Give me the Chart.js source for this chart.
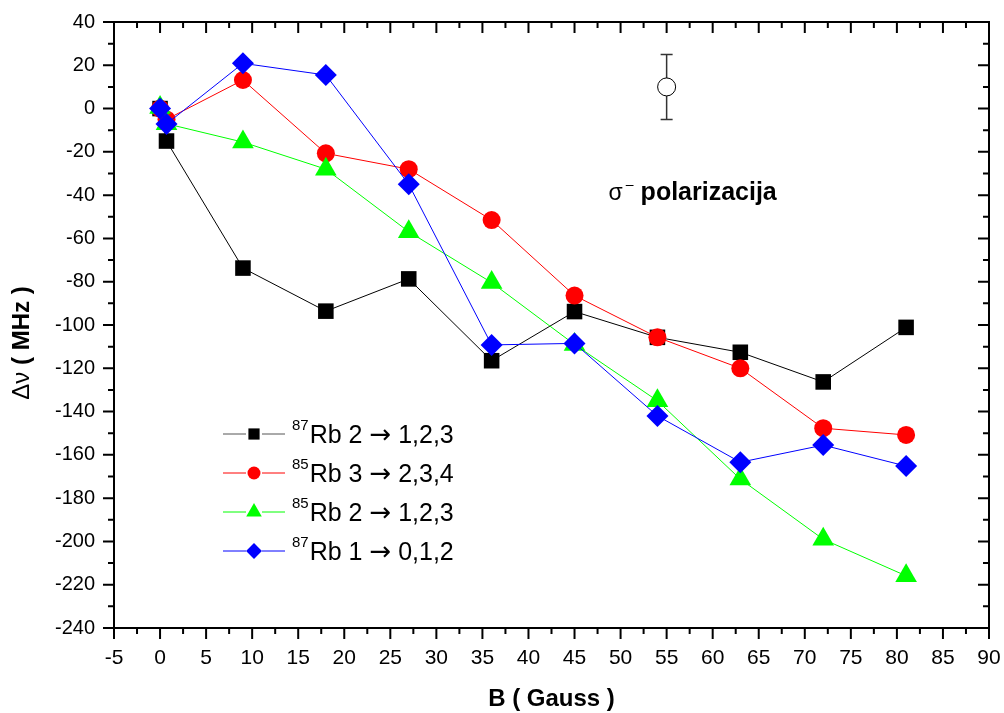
<!DOCTYPE html>
<html>
<head>
<meta charset="utf-8">
<script src="https://cdn.jsdelivr.net/npm/chart.js@4.4.0/dist/chart.umd.min.js"></script>
<style>
  html, body { margin: 0; padding: 0; background: #fff; }
</style>
</head>
<body>
<canvas id="chart" width="1004" height="713"></canvas>
<script>
// magnetic field values (Gauss)
const fieldB = [0, 0.7, 9, 18, 27, 36, 45, 54, 63, 72, 81];

// frequency shifts (MHz) for each transition
const rb87_2 = [0, -15, -73.7, -93.6, -78.7, -116.5, -93.8, -105.7, -112.6, -126.3, -101.1];
const rb85_3 = [0, -5, 13.2, -20.7, -28, -51.5, -86.4, -105.7, -120, -147.7, -150.8];
const rb85_2 = [0.5, -7, -15.5, -28, -56.9, -80.4, -109, -135, -171.2, -199, -215.9];
const rb87_1 = [0, -7.1, 20.9, 15.5, -35, -109.2, -108.5, -142, -163.4, -155.5, -165.2];

// typical error bar sample
const errB = 55;
const errNu = 10;
const errSize = 15;

// legend labels: isotope, initial level, final levels
const isotopes = ["87", "85", "85", "87"];
const fromLevel = ["Rb 2 ", "Rb 3 ", "Rb 2 ", "Rb 1 "];
const toLevels = [" 1,2,3", " 2,3,4", " 1,2,3", " 0,1,2"];

const FONT = "'Liberation Sans', Arial, sans-serif";

function toPoints(ys) {
  return fieldB.map((b, i) => ({ x: b, y: ys[i] }));
}

const datasets = [
  { label: isotopes[0] + fromLevel[0], data: toPoints(rb87_2), borderColor: "#000000", backgroundColor: "#000000",
    pointStyle: "rect", pointRadius: 11, order: 3 },
  { label: isotopes[1] + fromLevel[1], data: toPoints(rb85_3), borderColor: "#ff0000", backgroundColor: "#ff0000",
    pointStyle: "circle", pointRadius: 9, order: 2 },
  { label: isotopes[2] + fromLevel[2], data: toPoints(rb85_2), borderColor: "#00ff00", backgroundColor: "#00ff00",
    pointStyle: "triangle", pointRadius: 12.5, order: 1 },
  { label: isotopes[3] + fromLevel[3], data: toPoints(rb87_1), borderColor: "#0000ff", backgroundColor: "#0000ff",
    pointStyle: "rectRot", pointRadius: 11, order: 0 }
];
datasets.forEach(d => {
  d.showLine = true;
  d.borderWidth = 1;
  d.pointBorderWidth = 0;
  d.pointHoverRadius = d.pointRadius;
});

// open circle with error bar
datasets.push({
  label: "err",
  data: [{ x: errB, y: errNu }],
  showLine: false,
  pointStyle: "circle",
  pointRadius: 9,
  pointBorderWidth: 1,
  borderColor: "#000",
  backgroundColor: "#fff",
  order: -1
});

// frame, ticks, axis titles, legend and annotation
const decorations = {
  id: "decorations",
  beforeDatasetsDraw(chart) {
    const { ctx, scales: { x, y } } = chart;
    // error bar line (circle covers the middle)
    const px = x.getPixelForValue(errB);
    const top = y.getPixelForValue(errNu + errSize);
    const bot = y.getPixelForValue(errNu - errSize);
    ctx.save();
    ctx.strokeStyle = "#333";
    ctx.lineWidth = 1.5;
    ctx.beginPath();
    ctx.moveTo(px, top); ctx.lineTo(px, bot);
    ctx.moveTo(px - 6, top); ctx.lineTo(px + 6, top);
    ctx.moveTo(px - 6, bot); ctx.lineTo(px + 6, bot);
    ctx.stroke();
    ctx.restore();
  },
  afterDraw(chart) {
    const { ctx, chartArea: a, scales: { x, y } } = chart;
    ctx.save();
    ctx.strokeStyle = "#000";
    ctx.lineWidth = 2;
    ctx.strokeRect(a.left, a.top, a.right - a.left, a.bottom - a.top);

    // ticks: left/bottom outward, top/right inward
    ctx.beginPath();
    for (let v = -5; v <= 90.01; v += 2.5) {
      const p = x.getPixelForValue(v);
      const len = (Math.abs(v % 5) < 0.01) ? 11 : 6;
      ctx.moveTo(p, a.bottom); ctx.lineTo(p, a.bottom + len);
      ctx.moveTo(p, a.top); ctx.lineTo(p, a.top + len);
    }
    for (let v = -240; v <= 40.01; v += 10) {
      const p = y.getPixelForValue(v);
      const len = (Math.abs(v % 20) < 0.01) ? 11 : 6;
      ctx.moveTo(a.left, p); ctx.lineTo(a.left - len, p);
      ctx.moveTo(a.right, p); ctx.lineTo(a.right - len, p);
    }
    ctx.stroke();

    // axis titles
    ctx.fillStyle = "#000";
    ctx.textBaseline = "middle";
    ctx.textAlign = "center";
    ctx.font = "bold 24px " + FONT;
    ctx.fillText("B ( Gauss )", (a.left + a.right) / 2, 699);

    ctx.save();
    ctx.translate(22, 343);
    ctx.rotate(-Math.PI / 2);
    ctx.textAlign = "left";
    ctx.font = "24px " + FONT;
    const part1 = "\u0394\u03bd ";
    const w1 = ctx.measureText(part1).width;
    ctx.font = "bold 24px " + FONT;
    const part2 = "( MHz )";
    const w2 = ctx.measureText(part2).width;
    const start = -(w1 + w2) / 2;
    ctx.font = "24px " + FONT;
    ctx.fillText(part1, start, 0);
    ctx.font = "bold 24px " + FONT;
    ctx.fillText(part2, start + w1, 0);
    ctx.restore();

    // annotation
    const nx = x.getPixelForValue(48.7);
    const ny = y.getPixelForValue(-42.2);
    ctx.textAlign = "left";
    ctx.textBaseline = "alphabetic";
    ctx.font = "23px " + FONT;
    ctx.fillText("\u03c3", nx, ny);
    const sw = ctx.measureText("\u03c3").width;
    ctx.font = "14px " + FONT;
    ctx.fillText("\u2013", nx + sw + 3, ny - 11);
    ctx.font = "bold 25px " + FONT;
    ctx.fillText("polarizacija", nx + 32, ny);

    // legend
    const lx = a.left + 109;
    const ly = a.top + 412;
    const step = 39;
    for (let i = 0; i < 4; i++) {
      const ds = chart.data.datasets[i];
      const cy = ly + i * step;
      ctx.strokeStyle = i === 0 ? "#555" : ds.borderColor;
      ctx.lineWidth = 1;
      ctx.beginPath();
      ctx.moveTo(lx, cy); ctx.lineTo(lx + 23, cy);
      ctx.moveTo(lx + 39, cy); ctx.lineTo(lx + 62, cy);
      ctx.stroke();
      ctx.fillStyle = ds.backgroundColor;
      Chart.helpers.drawPoint(ctx, {
        pointStyle: ds.pointStyle,
        radius: ds.pointRadius * 0.72,
        rotation: 0,
        borderWidth: 0
      }, lx + 31, cy);
      ctx.fillStyle = "#000";
      let tx = lx + 69;
      ctx.font = "15px " + FONT;
      ctx.fillText(isotopes[i], tx, cy - 4);
      tx += ctx.measureText(isotopes[i]).width + 1;
      ctx.font = "25px " + FONT;
      ctx.fillText(fromLevel[i], tx, cy + 9);
      tx += ctx.measureText(fromLevel[i]).width;
      ctx.font = "26px 'DejaVu Sans', sans-serif";
      ctx.fillText("\u2192", tx, cy + 9);
      tx += ctx.measureText("\u2192").width;
      ctx.font = "25px " + FONT;
      ctx.fillText(toLevels[i], tx, cy + 9);
    }
    ctx.restore();
  }
};

new Chart(document.getElementById("chart"), {
  type: "scatter",
  data: { datasets },
  options: {
    responsive: false,
    animation: false,
    devicePixelRatio: 1,
    layout: { padding: { top: 22, right: 15, left: 0, bottom: 0 } },
    plugins: { legend: { display: false }, tooltip: { enabled: false } },
    scales: {
      x: {
        type: "linear",
        min: -5,
        max: 90,
        afterFit: s => { s.height = 85; s.paddingLeft = 0; s.paddingRight = 0; },
        grid: { display: false, drawTicks: false },
        border: { display: false },
        ticks: { stepSize: 5, color: "#000", padding: 18, font: { family: FONT, size: 21 } }
      },
      y: {
        type: "linear",
        min: -240,
        max: 40,
        afterFit: s => { s.width = 114; s.paddingTop = 0; s.paddingBottom = 0; },
        grid: { display: false, drawTicks: false },
        border: { display: false },
        ticks: { stepSize: 20, color: "#000", padding: 19, font: { family: FONT, size: 20 } }
      }
    }
  },
  plugins: [decorations]
});
</script>
</body>
</html>
